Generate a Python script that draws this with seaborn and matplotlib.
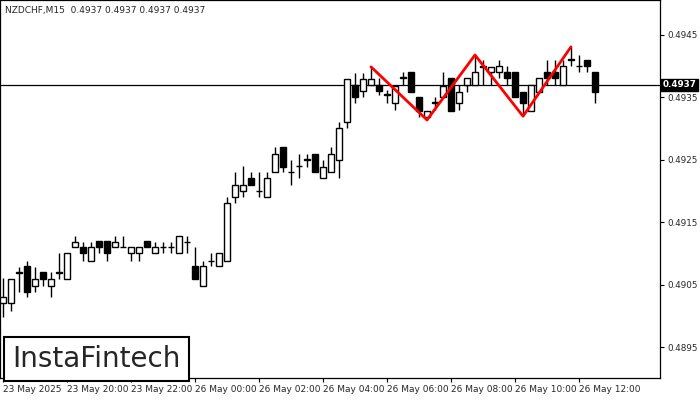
import numpy as np
import pandas as pd
import seaborn as sns
import matplotlib.pyplot as plt

# candles: open, high, low, close
opens = [.49021, .49021, .49069, .49080, .49049, .49070, .49049, .49070, .49059, .49110,
         .49110, .49088, .49120, .49120, .49110, .49110, .49101, .49101, .49120, .49101,
         .49110, .49110, .49101, .49118, .49080, .49049, .49088, .49080, .49089, .49190,
         .49200, .49221, .49200, .49190, .49230, .49271, .49230, .49240, .49250, .49259,
         .49221, .49230, .49250, .49311, .49370, .49360, .49370, .49370, .49354, .49341,
         .49381, .49391, .49351, .49319, .49341, .49351, .49381, .49341, .49370, .49370,
         .49399, .49391, .49391, .49391, .49391, .49359, .49328, .49359, .49391, .49391,
         .49370, .49410, .49400, .49410, .49391]
highs = [.49061, .49059, .49078, .49089, .49078, .49070, .49070, .49101, .49101, .49129,
         .49118, .49118, .49120, .49120, .49129, .49129, .49110, .49110, .49120, .49118,
         .49118, .49118, .49129, .49129, .49110, .49088, .49101, .49101, .49190, .49230,
         .49240, .49230, .49230, .49230, .49271, .49271, .49250, .49259, .49259, .49259,
         .49250, .49271, .49311, .49379, .49389, .49389, .49399, .49381, .49362, .49368,
         .49391, .49391, .49351, .49328, .49351, .49391, .49381, .49370, .49381, .49418,
         .49410, .49399, .49410, .49400, .49391, .49359, .49370, .49381, .49410, .49410,
         .49410, .49431, .49418, .49410, .49391]
lows = [.48998, .49009, .49038, .49030, .49038, .49049, .49030, .49059, .49059, .49110,
        .49088, .49088, .49101, .49088, .49110, .49110, .49088, .49088, .49110, .49101,
        .49101, .49101, .49101, .49101, .49059, .49049, .49080, .49080, .49089, .49181,
        .49190, .49210, .49190, .49190, .49230, .49230, .49210, .49221, .49238, .49230,
        .49221, .49230, .49221, .49301, .49341, .49351, .49370, .49354, .49341, .49330,
        .49370, .49359, .49319, .49314, .49330, .49351, .49328, .49330, .49359, .49370,
        .49370, .49370, .49381, .49370, .49351, .49320, .49328, .49359, .49370, .49370,
        .49370, .49400, .49391, .49391, .49341]
closes = [.49030, .49059, .49070, .49038, .49059, .49059, .49059, .49069, .49101, .49118,
          .49101, .49110, .49110, .49101, .49118, .49111, .49110, .49110, .49110, .49110,
          .49111, .49111, .49129, .49119, .49059, .49080, .49089, .49101, .49181, .49210,
          .49210, .49210, .49201, .49221, .49259, .49238, .49231, .49241, .49251, .49230,
          .49238, .49259, .49301, .49379, .49351, .49379, .49379, .49360, .49355, .49368,
          .49382, .49359, .49328, .49328, .49342, .49368, .49328, .49359, .49381, .49391,
          .49400, .49399, .49400, .49381, .49351, .49341, .49370, .49381, .49381, .49381,
          .49400, .49411, .49401, .49400, .49359]

# triple top pattern
pattern_idx = [46, 53, 59, 65, 71]
pattern_price = [.49399, .49314, .49418, .49320, .49431]

time_labels = ["23 May 2025", "23 May 20:00", "23 May 22:00", "26 May 00:00", "26 May 02:00",
               "26 May 04:00", "26 May 06:00", "26 May 08:00", "26 May 10:00", "26 May 12:00"]
price_ticks = [0.4895, 0.4905, 0.4915, 0.4925, 0.4935, 0.4945]
last_price = 0.4937

df = pd.DataFrame({"open": opens, "high": highs, "low": lows, "close": closes})
df["i"] = np.arange(len(df))
bull = df[df.close >= df.open]
bear = df[df.close < df.open]

sns.set_theme(style="white")
plt.rcParams["font.family"] = ["DejaVu Sans"]
fig = plt.figure(figsize=(7, 4), dpi=100)
ax = fig.add_axes([0, 22 / 400, 660 / 700, 378 / 400])

ax.axhline(last_price, color="black", lw=0.9, zorder=1)
ax.vlines(df.i, df.low, df.high, color="black", lw=1, zorder=2)
ax.bar(bull.i, bull.close - bull.open, bottom=bull.open, width=0.65,
       color="white", edgecolor="black", linewidth=1, zorder=3)
ax.bar(bear.i, bear.open - bear.close, bottom=bear.close, width=0.65,
       color="black", edgecolor="black", linewidth=1, zorder=3)
sns.lineplot(x=pattern_idx, y=pattern_price, color="red", lw=2, ax=ax, zorder=4)

ax.set_xlim(-0.375, -0.375 + 660 / 8)
ax.set_ylim(0.48901, 0.49506)
for s in ax.spines.values():
    s.set_color("black")
    s.set_linewidth(0.9)

ax.yaxis.tick_right()
ax.set_yticks(price_ticks)
ax.set_yticklabels([f"{p:.4f}" for p in price_ticks], fontsize=6.3)
ax.set_xticks(np.arange(0, 8 * len(time_labels), 8))
ax.set_xticklabels(time_labels, fontsize=6.5, ha="left")
ax.tick_params(axis="y", length=3, width=0.8, color="black", direction="out", pad=2,
               left=False, right=True)
ax.tick_params(axis="x", length=3, width=0.8, color="black", direction="out", pad=2,
               bottom=True)

ax.text(0.007, 0.985, "NZDCHF,M15  0.4937 0.4937 0.4937 0.4937", transform=ax.transAxes,
        fontsize=6.5, va="top", ha="left")
ax.annotate("0.4937", xy=(1.0, last_price), xycoords=("axes fraction", "data"),
            xytext=(2, 0), textcoords="offset points", fontsize=6.3, color="white",
            fontweight="bold", va="center", ha="left",
            bbox=dict(boxstyle="square,pad=0.2", fc="black", ec="black"))
fig.text(12 / 700, 1 - 359 / 400, "InstaFintech", fontsize=20, va="center", ha="left",
         bbox=dict(boxstyle="square,pad=0.3", fc="white", ec="black", lw=1.5))

fig.savefig("out.png", dpi=100)
